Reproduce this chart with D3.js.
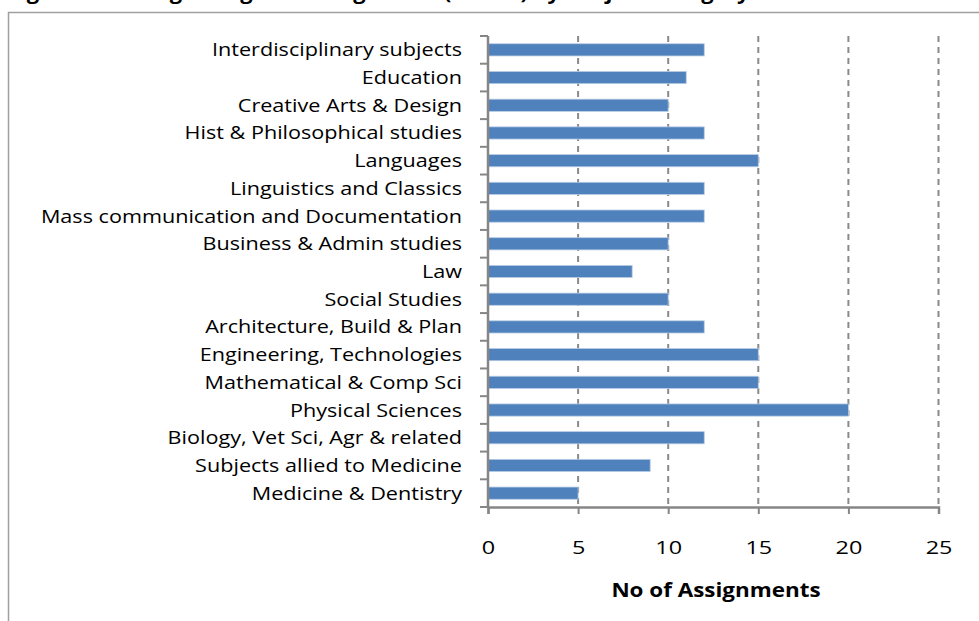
<!DOCTYPE html>
<html>
<head>
<meta charset="utf-8">
<script src="https://cdn.jsdelivr.net/npm/d3@7"></script>
<style>
  body { margin: 0; background: #fff; }
  svg { display: block; font-family: "Open Sans", Lato, sans-serif; }
</style>
</head>
<body>
<script>
(function () {

    //data, top to bottom
    var subjects = [
        "Interdisciplinary subjects",
        "Education",
        "Creative Arts & Design",
        "Hist & Philosophical studies",
        "Languages",
        "Linguistics and Classics",
        "Mass communication and Documentation",
        "Business & Admin studies",
        "Law",
        "Social Studies",
        "Architecture, Build & Plan",
        "Engineering, Technologies",
        "Mathematical & Comp Sci",
        "Physical Sciences",
        "Biology, Vet Sci, Agr & related",
        "Subjects allied to Medicine",
        "Medicine & Dentistry"
    ];
    var assignments = [12, 11, 10, 12, 15, 12, 12, 10, 8, 10, 12, 15, 15, 20, 12, 9, 5];
    var xTicks = [0, 5, 10, 15, 20, 25];
    var titleText = "Figure 3: Average Length of Assignment (Words) by Subject Category";
    var axisTitle = "No of Assignments";

    var width = 979, height = 621;

    var svg = d3.select("body").append("svg")
        .attr("width", width)
        .attr("height", height);

    //widen text like the original's stretched rendering
    function stretch(sel, k) {
        sel.each(function () {
            var len = this.getComputedTextLength();
            d3.select(this)
                .attr("textLength", len * k)
                .attr("lengthAdjust", "spacingAndGlyphs");
        });
    }

    //clipped figure caption above the frame
    svg.append("text")
        .attr("x", 8)
        .attr("y", -1)
        .style("font-size", "19px")
        .style("font-weight", "bold")
        .text(titleText)
        .call(stretch, 1.15);

    //chart frame (runs past the right and bottom edges)
    svg.append("rect")
        .attr("x", 8.5)
        .attr("y", 12.5)
        .attr("width", 1000)
        .attr("height", 700)
        .attr("fill", "none")
        .attr("stroke", "#a0a0a0")
        .attr("stroke-width", 1.5);

    var left = 488, right = 938.5, top = 36, bottom = 507;

    var x = d3.scaleLinear().domain([0, 25]).range([left, right]);
    var y = d3.scaleBand().domain(subjects).range([top, bottom])
        .paddingInner(0.56).paddingOuter(0.28);

    //dashed gridlines
    svg.selectAll(".grid")
        .data(xTicks.slice(1))
        .enter().append("line")
        .attr("class", "grid")
        .attr("x1", function (d) { return x(d); })
        .attr("x2", function (d) { return x(d); })
        .attr("y1", top)
        .attr("y2", bottom)
        .attr("stroke", "#8a8a8a")
        .attr("stroke-width", 2)
        .attr("stroke-dasharray", "6,5");

    //bars
    svg.selectAll(".bar")
        .data(subjects)
        .enter().append("rect")
        .attr("class", "bar")
        .attr("x", x(0))
        .attr("y", function (d) { return y(d); })
        .attr("width", function (d, i) { return x(assignments[i]) - x(0); })
        .attr("height", y.bandwidth())
        .attr("fill", "#4f81bd")
        .attr("stroke", "#b9cde5")
        .attr("stroke-width", 0.8);

    //y axis: boundary ticks and category labels
    var bounds = d3.range(subjects.length + 1).map(function (i) { return top + i * (bottom - top) / subjects.length; });
    svg.selectAll(".ytick")
        .data(bounds)
        .enter().append("line")
        .attr("x1", left - 8)
        .attr("x2", left)
        .attr("y1", function (d) { return d; })
        .attr("y2", function (d) { return d; })
        .attr("stroke", "#868686")
        .attr("stroke-width", 2);

    svg.selectAll(".ylabel")
        .data(subjects)
        .enter().append("text")
        .attr("class", "ylabel")
        .attr("x", 462)
        .attr("y", function (d) { return y(d) + y.bandwidth() / 2; })
        .attr("dy", "0.36em")
        .attr("text-anchor", "end")
        .style("font-size", "18px")
        .attr("fill", "#000")
        .text(function (d) { return d; })
        .call(stretch, 1.2);

    svg.append("line")
        .attr("x1", left).attr("x2", left)
        .attr("y1", top).attr("y2", bottom)
        .attr("stroke", "#868686")
        .attr("stroke-width", 2.5);

    //x axis
    var xAxis = d3.axisBottom(x).tickValues(xTicks).tickSize(7).tickPadding(27);
    var gx = svg.append("g")
        .attr("transform", "translate(0," + bottom + ")")
        .call(xAxis);
    gx.select(".domain").attr("stroke", "#868686").attr("stroke-width", 2.5);
    gx.selectAll(".tick line").attr("stroke", "#868686").attr("stroke-width", 2);
    gx.selectAll(".tick text")
        .style("font-size", "18px")
        .style("font-family", "'Open Sans', Lato, sans-serif")
        .attr("fill", "#000")
        .call(stretch, 1.3);

    svg.append("text")
        .attr("x", 716)
        .attr("y", 597)
        .attr("text-anchor", "middle")
        .style("font-size", "19px")
        .style("font-weight", "bold")
        .text(axisTitle)
        .call(stretch, 1.18);

})();
</script>
</body>
</html>
